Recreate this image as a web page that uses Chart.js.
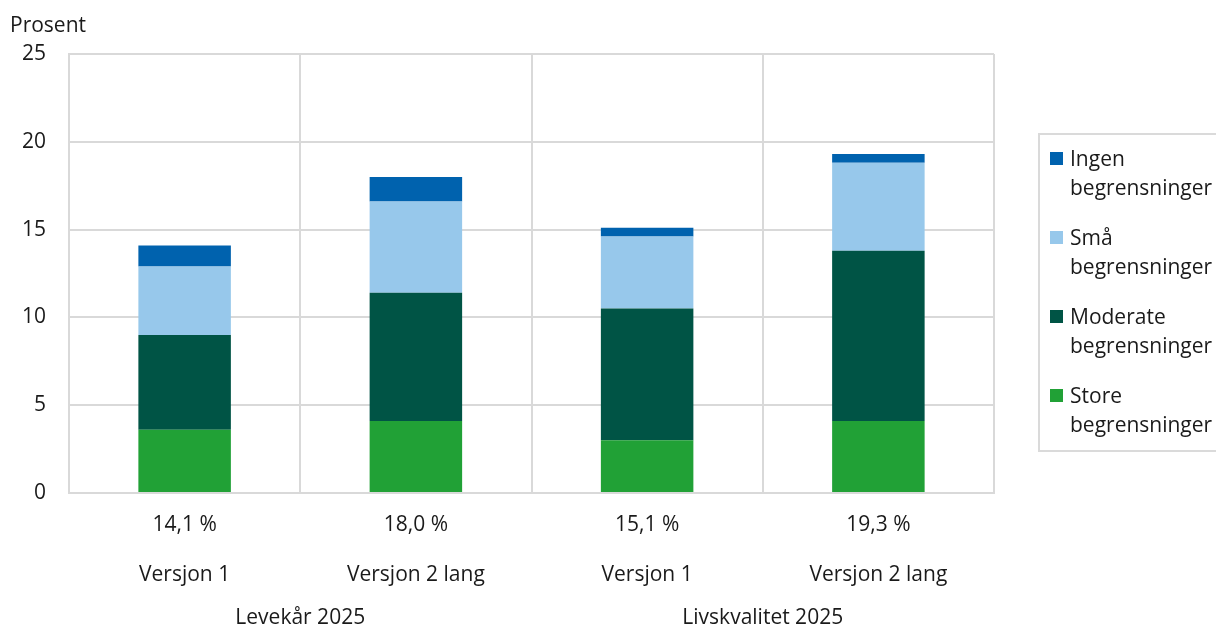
<!DOCTYPE html>
<html lang="no">
<head>
<meta charset="utf-8">
<script src="https://cdn.jsdelivr.net/npm/chart.js@4.4.1/dist/chart.umd.min.js"></script>
<style>
html, body { margin: 0; padding: 0; background: #fff; overflow: hidden; }
#wrap { position: relative; width: 1216px; height: 628px; }
#prosent { position: absolute; left: 10px; top: 10px; font: 21px "Open Sans"; color: #1a1a1a; }
#legend { position: absolute; left: 1038px; top: 133px; width: 200px; height: 319px;
  border: 2px solid #dadada; box-sizing: border-box; font: 21px "Open Sans"; color: #1a1a1a; }
.item { position: absolute; left: 10px; line-height: 29px; }
.item span.box { position: absolute; left: 0; top: 8px; width: 13px; height: 13px; }
.item div { margin-left: 20px; white-space: nowrap; }
</style>
</head>
<body>
<div id="wrap">
  <canvas id="chart" width="1216" height="628"></canvas>
  <div id="prosent">Prosent</div>
  <div id="legend"></div>
</div>
<script>
const categories = ['Versjon 1', 'Versjon 2 lang', 'Versjon 1', 'Versjon 2 lang'];
const totalLabels = ['14,1 %', '18,0 %', '15,1 %', '19,3 %'];
const groups = ['Levekår 2025', 'Livskvalitet 2025'];

// bottom to top in the stack
const store = [3.6, 4.1, 3.0, 4.1];
const moderate = [5.4, 7.3, 7.5, 9.7];
const sma = [3.9, 5.2, 4.1, 5.0];
const ingen = [1.2, 1.4, 0.5, 0.5];

const seriesNames = [['Store', 'begrensninger'], ['Moderate', 'begrensninger'], ['Små', 'begrensninger'], ['Ingen', 'begrensninger']];
const colors = ['#21a136', '#005445', '#97c8eb', '#0062ae'];

const gridColor = '#d9d9d9';
const textColor = '#1a1a1a';

const groupLabels = {
  id: 'groupLabels',
  afterDraw(chart) {
    const x = chart.scales.x, ctx = chart.ctx;
    ctx.save();
    ctx.font = '21px "Open Sans"';
    ctx.fillStyle = textColor;
    ctx.textAlign = 'center';
    ctx.textBaseline = 'middle';
    groups.forEach((g, i) => {
      const cx = (x.getPixelForValue(i * 2) + x.getPixelForValue(i * 2 + 1)) / 2;
      ctx.fillText(g, cx, x.top + 125);
    });
    ctx.restore();
  }
};

const data = [store, moderate, sma, ingen];

const chart = new Chart(document.getElementById('chart'), {
  type: 'bar',
  data: {
    labels: categories.map((c, i) => [totalLabels[i], c]),
    datasets: data.map((d, i) => ({
      label: seriesNames[i].join(' '),
      data: d,
      backgroundColor: colors[i],
      borderWidth: 0,
      barPercentage: 0.4,
      categoryPercentage: 1
    }))
  },
  options: {
    responsive: false,
    animation: false,
    layout: { padding: { top: 54, right: 222, left: 0, bottom: 0 } },
    plugins: { legend: { display: false }, tooltip: { enabled: false } },
    scales: {
      x: {
        stacked: true,
        grid: { offset: true, color: gridColor, lineWidth: 2, drawTicks: false },
        border: { display: true, color: gridColor, width: 2 },
        ticks: { color: textColor, padding: 7, maxRotation: 0,
          font: { family: 'Open Sans', size: 21, lineHeight: '50px' } },
        afterFit: s => { s.height = 135; }
      },
      y: {
        stacked: true,
        min: 0, max: 25,
        grid: { color: gridColor, lineWidth: 2, drawTicks: false },
        border: { display: true, color: gridColor, width: 2 },
        ticks: { stepSize: 5, color: textColor, padding: 23,
          font: { family: 'Open Sans', size: 21 } },
        afterFit: s => { s.width = 69; }
      }
    }
  },
  plugins: [groupLabels]
});

// legend, top of stack first
const legend = document.getElementById('legend');
chart.data.datasets.slice().reverse().forEach((ds, i) => {
  const idx = chart.data.datasets.length - 1 - i;
  const item = document.createElement('div');
  item.className = 'item';
  item.style.top = (9 + i * 79) + 'px';
  item.innerHTML = '<span class="box" style="background:' + ds.backgroundColor + '"></span><div>' +
    seriesNames[idx][0] + '<br>' + seriesNames[idx][1] + '</div>';
  legend.appendChild(item);
});
</script>
</body>
</html>
